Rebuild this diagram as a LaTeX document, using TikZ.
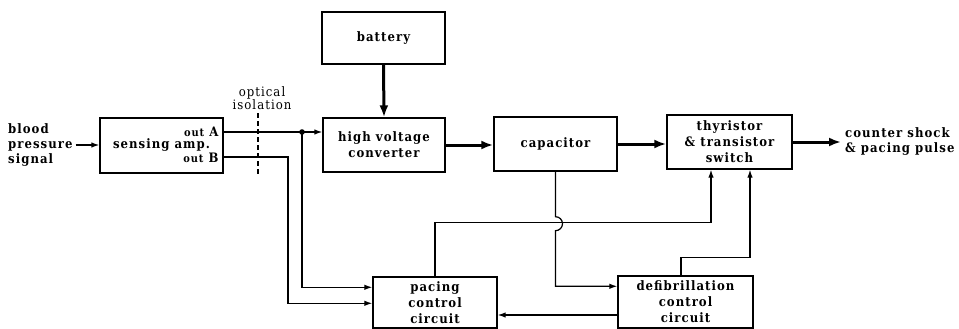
\documentclass[tikz,border=0pt]{standalone}
\usepackage{fontspec}
\setmainfont{DejaVu Serif Condensed}[LetterSpace=8]
\usepackage{tikz}
\usetikzlibrary{positioning,arrows.meta,calc}

\begin{document}
\begin{tikzpicture}[x=1pt, y=1pt,
  blk/.style={draw, line width=1.4pt, inner sep=0, align=center,
              font=\fontsize{13}{16}\selectfont\bfseries},
  txt/.style={inner sep=0, font=\fontsize{13}{15}\selectfont\bfseries},
  sig/.style={line width=1.2pt, -{Latex[length=8pt,width=5.5pt]}},
  pow/.style={line width=3pt, -{Latex[length=12pt,width=9pt]}},
  wire/.style={line width=1.2pt}]
\useasboundingbox (0,0) rectangle (959,-329);
% blocks
\node[blk, minimum width=123pt, minimum height=55pt] (amp) at (161.5,-145.5) {sensing amp.};
\node[blk, minimum width=123pt, minimum height=52pt] (batt) at (383.5,-38) {battery};
\node[blk, minimum width=122pt, minimum height=54pt] (hv) at (384,-145) {high voltage\\converter};
\node[blk, minimum width=123pt, minimum height=54pt] (cap) at (555.5,-144) {capacitor};
\node[blk, minimum width=125pt, minimum height=54pt] (thy) at (729.5,-142) {thyristor\\\& transistor\\switch};
\node[blk, minimum width=124pt, minimum height=51pt] (pace) at (435,-302.5) {pacing\\control\\circuit};
\node[blk, minimum width=135pt, minimum height=52pt] (defib) at (685.5,-302) {defibrillation\\control\\circuit};
% texts
\node[txt, align=left, anchor=west] (signal) at (8,-145) {blood\\pressure\\signal};
\node[txt, anchor=east] (outA) at ($(amp.east)+(-5,13.5)$) {{\fontsize{11}{13}\selectfont out}~A};
\node[txt, anchor=east] (outB) at ($(amp.east)+(-5,-12)$) {{\fontsize{11}{13}\selectfont out}~B};
\node[txt, align=center, font=\fontsize{13}{13}\selectfont] (iso) at (262,-98) {optical\\isolation};
\node[txt, align=left, anchor=west] (shock) at (845,-142) {counter shock\\\& pacing pulse};
% helper points
\coordinate (jA) at (302,-132);
\coordinate (bendB) at (288,-157);
\coordinate (isoT) at (258,-113);
\coordinate (isoB) at (258,-176);
\coordinate (pInA) at ($(pace.north west)+(0,-11)$);
\coordinate (pInB) at ($(pace.north west)+(0,-27)$);
\coordinate (dIn) at ($(defib.north west)+(0,-11)$);
\coordinate (dOut) at ($(defib.west)+(0,-13)$);
\coordinate (tIn1) at ($(thy.south)+(-18.5,0)$);
\coordinate (tIn2) at ($(thy.south)+(20.5,0)$);
% power path
\draw[pow] (batt.south) -- (hv.north);
\draw[pow] (hv.east) -- (cap.west |- hv.east);
\draw[pow] (cap.east) -- (thy.west |- cap.east);
\draw[pow, shorten >=4pt] (thy.east) -- (shock.west |- thy.east);
% signal path
\draw[sig, shorten <=3pt] (signal.east) -- (amp.west |- signal.east);
\draw[sig] (amp.east |- jA) -- (hv.west |- jA);
\fill (jA) circle (2.8);
\draw[sig] (jA) |- (pInA);
\draw[sig] (amp.east |- bendB) -- (bendB) |- (pInB);
\draw[wire, dash pattern=on 5pt off 3pt] (isoT) -- (isoB);
\draw[sig] (cap.south) -- ++(0,-45) arc[start angle=90, end angle=-90, radius=7] |- (dIn);
\draw[sig] (pace.north) -- ++(0,54) -| (tIn1);
\draw[sig] ($(defib.north)+(-4.5,0)$) -- ++(0,18) -| (tIn2);
\draw[sig] (dOut) -- (pace.east |- dOut);
\end{tikzpicture}
\end{document}
